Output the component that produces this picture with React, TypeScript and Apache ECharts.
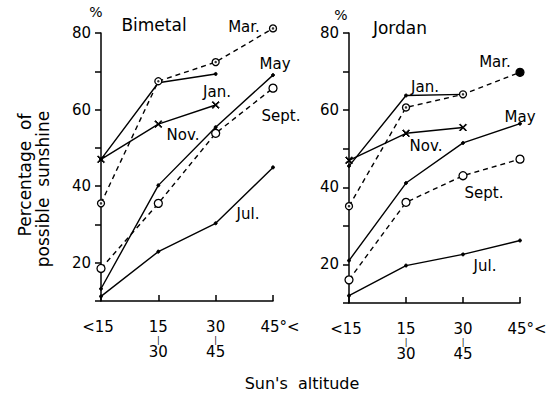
import React, { useEffect, useRef } from "react";
import * as echarts from "echarts";

// Categories (sun's altitude)
const categories = ["<15", "15-30", "30-45", "45°<"];
const catTop = ["<15", "15", "30", "45°<"];
const catBottom = ["", "30", "45", ""];

// Bimetal (left panel), percentage of possible sunshine
const bimetalMar = [35.5, 67.4, 72.4, 81.2];
const bimetalJan = [47, 67, 69.3, null];
const bimetalNov = [47, 56.2, 61.2, null];
const bimetalMay = [13.2, 40.2, 55.4, 69];
const bimetalSept = [18.5, 35.5, 53.8, 65.6];
const bimetalJul = [11.2, 22.9, 30.3, 44.9];

// Jordan (right panel)
const jordanMar = [35.1, 60.7, 64.1, 69.8];
const jordanJan = [45.5, 63.8, 64.1, null];
const jordanNov = [47, 54, 55.5, null];
const jordanMay = [21, 41.1, 51.5, 56.5];
const jordanSept = [16, 36.1, 43, 47.3];
const jordanJul = [11.9, 19.7, 22.6, 26.2];

const yTicks = { min: 10, max: 80, interval: 10 };

const FONT = "DejaVu Sans";
const BLACK = "#000";
const CROSS = "path://M1,0 L5,4 L9,0 L10,1 L6,5 L10,9 L9,10 L5,6 L1,10 L0,9 L4,5 L0,1 Z";

function makeAxes(gi: number) {
  const x = {
    type: "category",
    gridIndex: gi,
    data: categories,
    boundaryGap: false,
    axisLine: { onZero: false, lineStyle: { color: BLACK, width: 1.5 } },
    axisTick: { inside: true, length: 6, interval: 0, lineStyle: { color: BLACK, width: 1.5 } },
    axisLabel: {
      interval: 0,
      margin: 18,
      color: BLACK,
      fontFamily: FONT,
      formatter: (_v: string, i: number) => {
        if (i === 0) return `{e|${catTop[i]}}`;
        if (i === catTop.length - 1) return `{c|${catTop[i]}}`;
        return `{a|${catTop[i]}}\n{b||}\n{d|${catBottom[i]}}`;
      },
      rich: {
        a: { fontSize: 15, lineHeight: 16, fontFamily: FONT, color: BLACK },
        e: { fontSize: 15, lineHeight: 16, fontFamily: FONT, color: BLACK, padding: [0, 6, 0, 0] },
        b: { fontSize: 8, lineHeight: 10, fontFamily: FONT, color: BLACK },
        d: { fontSize: 15, lineHeight: 14, fontFamily: FONT, color: BLACK },
        c: { fontSize: 15, lineHeight: 16, fontFamily: FONT, color: BLACK, padding: [0, 0, 0, 14] },
      },
    },
    splitLine: { show: false },
  };
  const y = {
    type: "value",
    gridIndex: gi,
    min: yTicks.min,
    max: yTicks.max,
    interval: yTicks.interval,
    axisLine: { show: true, lineStyle: { color: BLACK, width: 1.5 } },
    axisTick: { show: true, length: 6, lineStyle: { color: BLACK, width: 1.5 } },
    axisLabel: {
      color: BLACK,
      fontSize: 15,
      fontFamily: FONT,
      margin: 10,
      formatter: (v: number) => (v % 20 === 0 ? String(v) : ""),
    },
    splitLine: { show: false },
  };
  return { x, y };
}

function series(gi: number, d: any) {
  const base = (name: string, data: any[], extra: any) => ({
    type: "line",
    name,
    xAxisIndex: gi,
    yAxisIndex: gi,
    data,
    clip: false,
    connectNulls: false,
    lineStyle: { color: BLACK, width: 1.4 },
    itemStyle: { color: BLACK, borderColor: BLACK },
    ...extra,
  });
  const dashed = { color: BLACK, width: 1.4, type: [5, 4] };
  const marData = d.mar.map((v: number, i: number) =>
    gi === 1 && i === d.mar.length - 1
      ? { value: v, symbolSize: 8, itemStyle: { color: BLACK, borderColor: BLACK } }
      : v
  );
  return [
    base("Jul.", d.jul, { symbol: "circle", symbolSize: 3, z: 2 }),
    base("May", d.may, { symbol: "circle", symbolSize: 3, z: 2 }),
    base("Jan.", d.jan, { symbol: "circle", symbolSize: 3, z: 2 }),
    base("Nov.", d.nov, { symbol: CROSS, symbolSize: 7, z: 3 }),
    base("Sept.", d.sept, {
      symbol: "circle",
      symbolSize: 8,
      lineStyle: dashed,
      itemStyle: { color: "#fff", borderColor: BLACK, borderWidth: 1.3 },
      z: 4,
    }),
    base("Mar.", marData, {
      symbol: "circle",
      symbolSize: 7,
      lineStyle: dashed,
      itemStyle: { color: "#fff", borderColor: BLACK, borderWidth: 1.3 },
      z: 5,
    }),
    {
      type: "scatter",
      xAxisIndex: gi,
      yAxisIndex: gi,
      data: d.mar,
      clip: false,
      symbol: "circle",
      symbolSize: 2.5,
      itemStyle: { color: BLACK },
      z: 6,
    },
  ];
}

function txt(text: string, x: number, y: number, size = 15, extra: any = {}) {
  return {
    type: "text",
    x,
    y,
    style: {
      text,
      fill: BLACK,
      font: `${size}px "${FONT}"`,
      align: "center",
      verticalAlign: "middle",
    },
    ...extra,
  };
}

export default function App() {
  const ref = useRef<HTMLDivElement>(null);
  useEffect(() => {
    if (!ref.current) return;
    const chart = echarts.init(ref.current, null, { renderer: "svg" });
    const a0 = makeAxes(0);
    const a1 = makeAxes(1);
    chart.setOption({
      animation: false,
      backgroundColor: "#fff",
      grid: [
        { left: 101, top: 33, width: 172, bottom: 94, containLabel: false },
        { left: 349, top: 33, width: 171, bottom: 92, containLabel: false },
      ],
      xAxis: [a0.x, a1.x],
      yAxis: [a0.y, a1.y],
      series: [
        ...series(0, {
          mar: bimetalMar,
          jan: bimetalJan,
          nov: bimetalNov,
          may: bimetalMay,
          sept: bimetalSept,
          jul: bimetalJul,
        }),
        ...series(1, {
          mar: jordanMar,
          jan: jordanJan,
          nov: jordanNov,
          may: jordanMay,
          sept: jordanSept,
          jul: jordanJul,
        }),
      ],
      graphic: [
        txt("%", 96, 12, 14),
        txt("%", 341, 15, 14),
        txt("Bimetal", 154, 25, 17),
        txt("Jordan", 400, 28, 17),
        txt("Mar.", 244, 27),
        txt("May", 275, 64),
        txt("Jan.", 217, 92),
        txt("Nov.", 183, 135),
        txt("Sept.", 281, 116),
        txt("Jul.", 248, 214),
        txt("Mar.", 495, 62),
        txt("Jan.", 425, 87),
        txt("Nov.", 426, 146),
        txt("May", 520, 117),
        txt("Sept.", 484, 193),
        txt("Jul.", 485, 266),
        txt("Sun's  altitude", 302, 383, 16),
        txt("Percentage  of", 25, 175, 17, { rotation: Math.PI / 2 }),
        txt("possible  sunshine", 43, 189, 17, { rotation: Math.PI / 2 }),
      ],
    });
    return () => chart.dispose();
  }, []);
  return (
    <div
      ref={ref}
      style={{ position: "fixed", left: 0, top: 0, width: 559, height: 395 }}
    />
  );
}
